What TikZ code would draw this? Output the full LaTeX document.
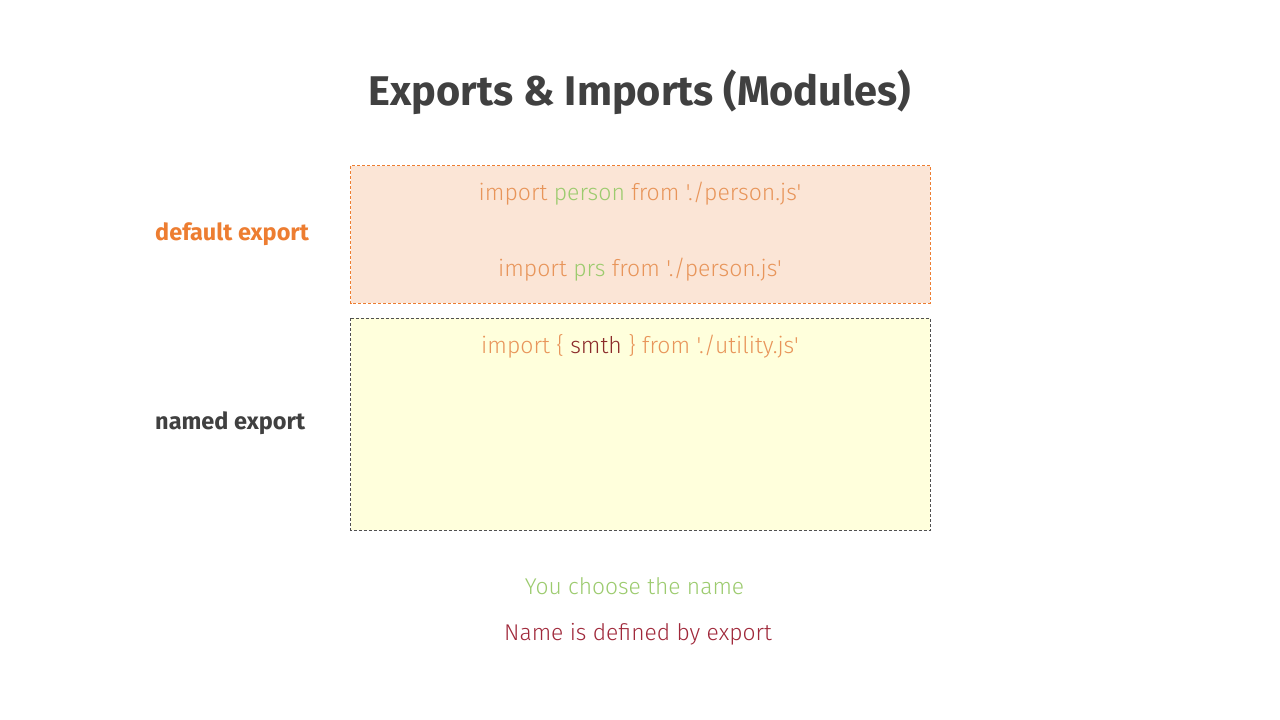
\documentclass[tikz,border=0pt]{standalone}
\usepackage{fontspec}
\setmainfont{Fira Sans}
\newfontfamily\lightfont{Fira Sans Light}
\definecolor{titlegray}{HTML}{404040}
\definecolor{orangeline}{HTML}{ED7D31}
\definecolor{orangefill}{HTML}{FBE5D6}
\definecolor{yellowfill}{HTML}{FFFFDC}
\definecolor{codeorange}{HTML}{E8955A}
\definecolor{codegreen}{HTML}{9CCB6E}
\definecolor{codered}{HTML}{8B2A2A}
\definecolor{namered}{HTML}{A0283A}
\definecolor{boxgray}{HTML}{505050}
\begin{document}
\begin{tikzpicture}[x=1pt,y=-1pt,
  code/.style={font=\lightfont\fontsize{23}{27}\selectfont, text=codeorange, anchor=center, inner sep=0pt},
  side/.style={font=\bfseries\fontsize{23.5}{27}\selectfont, anchor=west, inner sep=0pt},
  note/.style={font=\lightfont\fontsize{22.8}{27}\selectfont, anchor=center, inner sep=0pt}]
\useasboundingbox (0,0) rectangle (1280,720);
\fill[white] (0,0) rectangle (1280,720);
\node[font=\bfseries\fontsize{41.5}{48}\selectfont, text=titlegray, inner sep=0pt] (title) at (640,92) {Exports \& Imports (Modules)};
\draw[orangeline, fill=orangefill, dash pattern=on 3pt off 2pt, line width=1pt] (350.5,165.5) rectangle (930,303) coordinate (dbox);
\draw[boxgray, fill=yellowfill, dash pattern=on 3pt off 2pt, line width=1pt] (350.5,318) rectangle (930,530) coordinate (nbox);
\node[code] (imp1) at (640,194) {import \textcolor{codegreen}{person} from './person.js'};
\node[code] (imp2) at (640,270) {import \textcolor{codegreen}{prs} from './person.js'};
\node[code] (imp3) at (640,346) {import \{ \textcolor{codered}{smth} \} from './utility.js'};
\node[side, text=orangeline] (deflab) at (155,234) {default export};
\node[side, text=titlegray] (namlab) at (155,423) {named export};
\node[note, text=codegreen] (choose) at (634.5,586) {You choose the name};
\node[note, text=namered] (defined) at (638,634) {Name is defined by export};
\end{tikzpicture}
\end{document}
